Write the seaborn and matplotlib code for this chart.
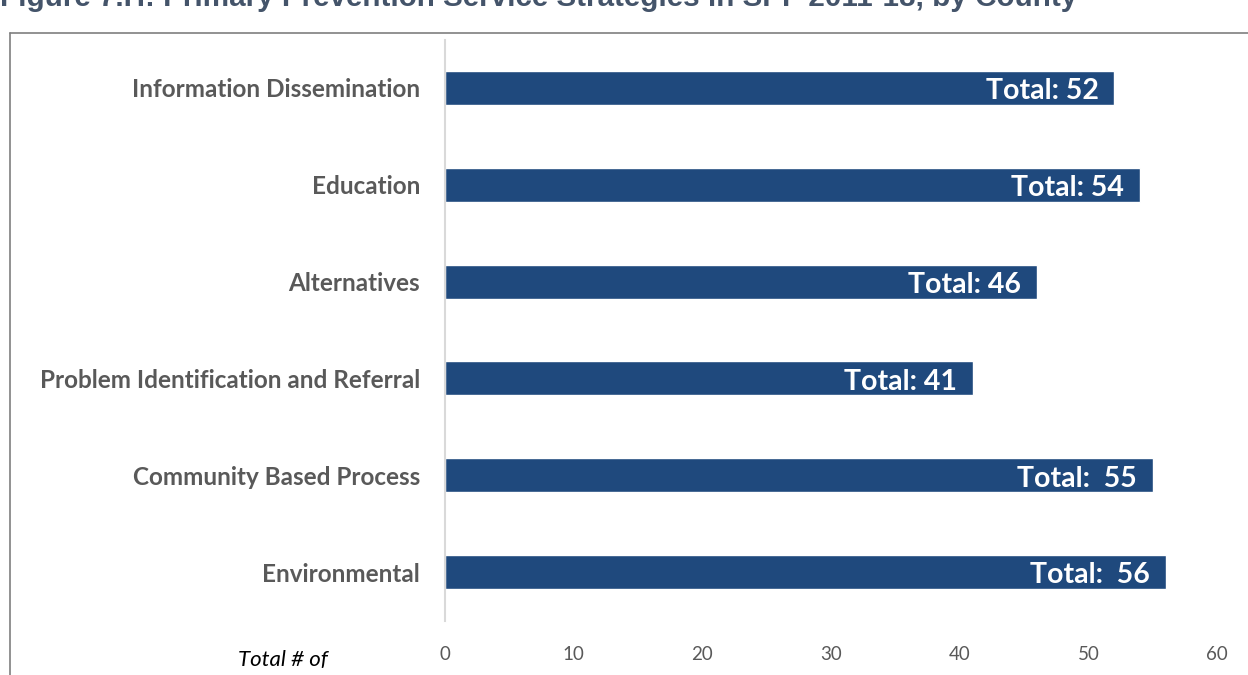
import pandas as pd
import seaborn as sns
import matplotlib.pyplot as plt
from matplotlib.lines import Line2D

# Data
strategies = ['Information Dissemination', 'Education', 'Alternatives',
              'Problem Identification and Referral', 'Community Based Process',
              'Environmental']
totals = [52, 54, 46, 41, 55, 56]
bar_labels = ['Total: 52', 'Total: 54', 'Total: 46', 'Total: 41',
              'Total:  55', 'Total:  56']
x_ticks = [0, 10, 20, 30, 40, 50, 60]

dat = pd.DataFrame({'strategy': strategies, 'total': totals})

sns.set_style('white')
plt.rcParams['font.family'] = ['Lato', 'DejaVu Sans']

fig = plt.figure(figsize=(12.48, 6.75), dpi=100)
ax = fig.add_axes([445/1248, 1-620.5/675, (1217-445)/1248, (620.5-39.5)/675])

sns.barplot(data=dat, x='total', y='strategy', color='#1F497D', width=0.35,
            saturation=1, ax=ax)

# White labels inside bar ends
for i, (v, lab) in enumerate(zip(totals, bar_labels)):
    ax.text(v - 1.2, i + 0.035, lab, ha='right', va='center', color='white',
            fontsize=20.5, fontweight='bold')

ax.set_xlim(0, 60)
ax.set_xticks(x_ticks)
ax.tick_params(axis='x', colors='#595959', labelsize=13.5, length=0, pad=18)
ax.tick_params(axis='y', labelsize=17.5, length=0, pad=18)
for t in ax.get_yticklabels():
    t.set_fontweight('bold')
    t.set_color('#595959')
ax.set_xlabel('')
ax.set_ylabel('')
for s in ['top', 'right', 'bottom']:
    ax.spines[s].set_visible(False)
ax.spines['left'].set_color('#d9d9d9')
ax.spines['left'].set_linewidth(1.5)

fig.text(283/1248, 1-660/675, 'Total # of', ha='center', va='center',
         style='italic', fontsize=16, color='black')

# Title, cut off at the top edge as in the source page
fig.text(0.0, 1-6/675, 'Figure 7.H: Primary Prevention Service Strategies in SPF 2011-18, by County',
         ha='left', va='baseline', fontsize=21.3, fontweight='bold',
         color='#44546A', family=['Liberation Sans', 'DejaVu Sans'])

# Chart frame
fig.add_artist(Line2D([10/1248, 10/1248], [0, 1-33/675], color='#7f7f7f', lw=1.2))
fig.add_artist(Line2D([10/1248, 1], [1-33/675, 1-33/675], color='#7f7f7f', lw=1.2))

fig.savefig('out.png', dpi=100)
